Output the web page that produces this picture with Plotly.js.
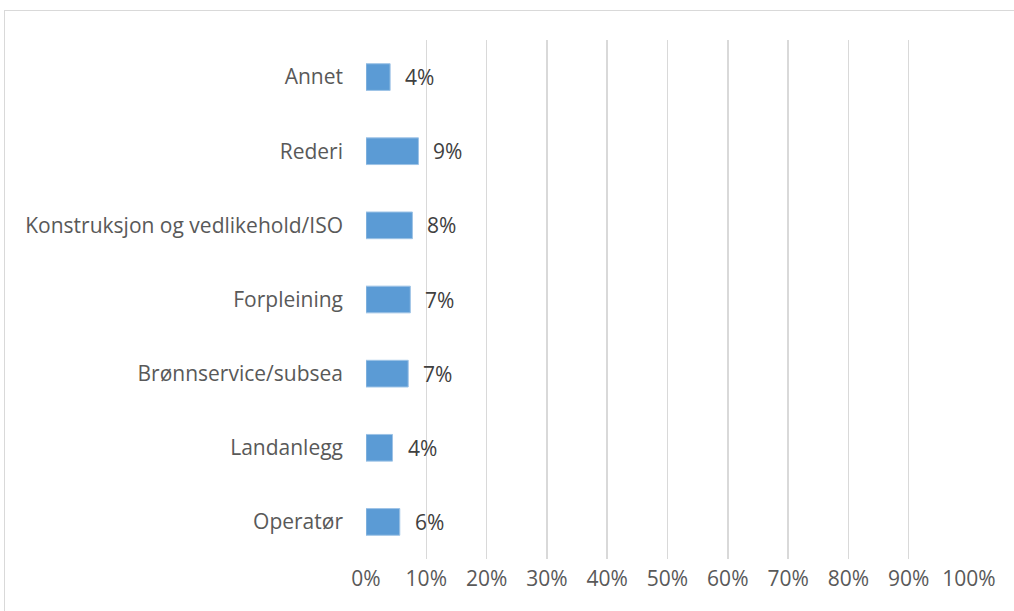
<!DOCTYPE html>
<html>
<head>
<meta charset="utf-8">
<script src="https://cdn.plot.ly/plotly-3.0.1.min.js"></script>
<style>
  body { margin: 0; background: #fff; }
  #wrap { position: relative; width: 1014px; height: 611px; overflow: hidden; }
  #frame { position: absolute; left: 4px; top: 10px; width: 1100px; height: 700px; border: 1px solid #d9d9d9; box-sizing: border-box; }
  #chart { position: absolute; left: 0; top: 0; width: 1014px; height: 611px; }
</style>
</head>
<body>
<div id="wrap">
  <div id="frame"></div>
  <div id="chart"></div>
</div>
<script>
// kategorier nedenfra og opp (slik Excel tegner dem)
const kategorier = ["Operatør", "Landanlegg", "Brønnservice/subsea", "Forpleining",
  "Konstruksjon og vedlikehold/ISO", "Rederi", "Annet"];
const andel = [0.056, 0.044, 0.070, 0.0735, 0.077, 0.087, 0.040];
const tickVerdier = [0, 0.1, 0.2, 0.3, 0.4, 0.5, 0.6, 0.7, 0.8, 0.9, 1.0];

const fontFam = "'Open Sans', 'Noto Sans', sans-serif";
const fontStr = 21;

const trace = {
  type: "bar",
  orientation: "h",
  x: andel,
  y: kategorier,
  marker: { color: "#5b9bd5", line: { color: "#9dc3e6", width: 1 } },
  hoverinfo: "none"
};

// dataetiketter litt til høyre for stolpen
const etiketter = andel.map((v, i) => ({
  x: v, y: kategorier[i], xref: "x", yref: "y",
  text: Math.round(v * 100) + "%",
  showarrow: false, xanchor: "left", xshift: 13,
  font: { family: fontFam, size: fontStr, color: "#404040" }
}));

const layout = {
  width: 1014,
  height: 611,
  margin: { l: 366, r: 45, t: 40, b: 52 },
  paper_bgcolor: "rgba(0,0,0,0)",
  plot_bgcolor: "rgba(0,0,0,0)",
  bargap: 0.64,
  showlegend: false,
  font: { family: fontFam, size: fontStr, color: "#595959" },
  xaxis: {
    range: [0, 1],
    tickvals: tickVerdier,
    tickformat: ".0%",
    showgrid: true,
    gridcolor: "#d9d9d9",
    gridwidth: 1.5,
    zeroline: false,
    showline: false,
    ticks: "",
    ticklabelstandoff: 5,
    fixedrange: true
  },
  yaxis: {
    categoryorder: "array",
    categoryarray: kategorier,
    showgrid: false,
    zeroline: false,
    ticks: "",
    ticklabelstandoff: 22,
    tickfont: { color: "#595959" },
    fixedrange: true
  },
  annotations: etiketter
};

Plotly.newPlot("chart", [trace], layout, { displayModeBar: false, staticPlot: true });
</script>
</body>
</html>
